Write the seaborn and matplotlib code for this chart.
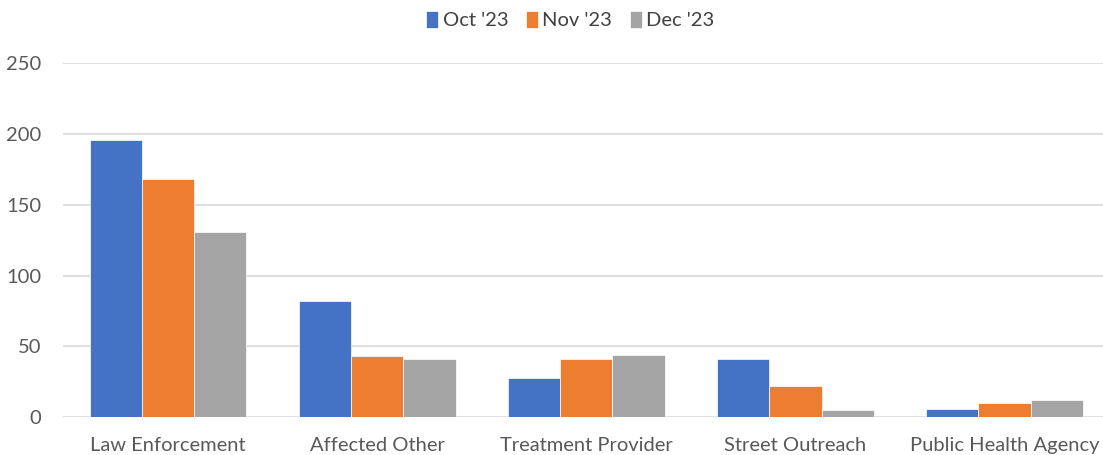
import pandas as pd
import matplotlib
matplotlib.use("Agg")
import matplotlib.pyplot as plt
import seaborn as sns

categories = ["Law Enforcement", "Affected Other", "Treatment Provider", "Street Outreach", "Public Health Agency"]
months = ["Oct '23", "Nov '23", "Dec '23"]
oct_vals = [196, 82, 28, 41, 6]
nov_vals = [168, 43, 41, 22, 10]
dec_vals = [131, 41, 44, 5, 12]
colors = ["#4472C4", "#ED7D31", "#A5A5A5"]

rows = []
for m, vals in zip(months, [oct_vals, nov_vals, dec_vals]):
    for c, v in zip(categories, vals):
        rows.append({"category": c, "month": m, "count": v})
df = pd.DataFrame(rows)

sns.set_style("white")
plt.rcParams['font.family'] = ['Lato', 'DejaVu Sans']

fig = plt.figure(figsize=(11.03, 4.55), dpi=100)
ax = fig.add_axes([0.0575, 0.083, 0.948, 0.778])
sns.barplot(data=df, x="category", y="count", hue="month", palette=colors,
            width=0.75, saturation=1, edgecolor="white", linewidth=0.5, ax=ax, zorder=3)

ax.set_ylim(0, 250)
ax.set_xlim(-0.5, 4.5)
ax.set_yticks([0, 50, 100, 150, 200, 250])
ax.yaxis.grid(True, color="#d9d9d9", linewidth=1.2, zorder=0)
ax.set_axisbelow(True)
for s in ax.spines.values():
    s.set_visible(False)
ax.set_xlabel("")
ax.set_ylabel("")
ax.tick_params(axis="both", length=0, labelsize=14.5, colors="#595959")
ax.tick_params(axis="y", pad=16)
ax.tick_params(axis="x", pad=14)

ax.legend(loc="center", bbox_to_anchor=(0.485, 1.122), ncol=3, frameon=False,
          fontsize=14.5, handlelength=0.6, handleheight=0.9, handletextpad=0.2,
          columnspacing=0.9, labelcolor="#404040")

fig.savefig("out.png", dpi=100)
